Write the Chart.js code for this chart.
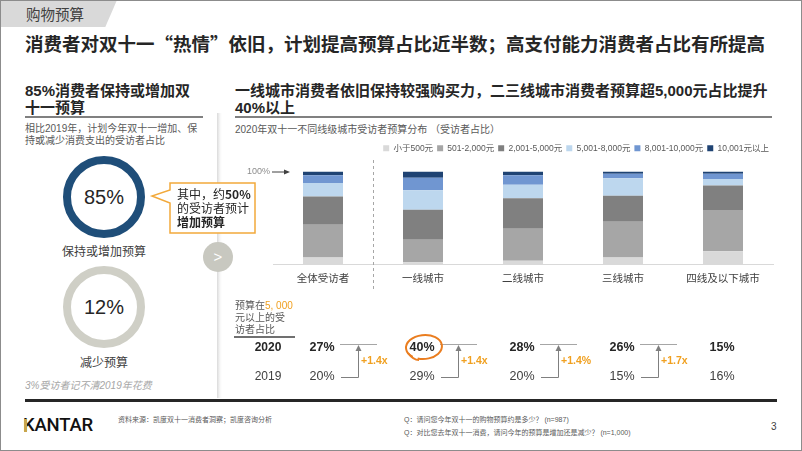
<!DOCTYPE html>
<html lang="zh">
<head>
<meta charset="UTF-8">
<title>购物预算</title>
<script src="https://cdn.jsdelivr.net/npm/chart.js"></script>
<style>
    body { margin: 0; background: #fff; font-family: "Liberation Sans", "Noto Sans CJK SC", sans-serif; color: #262626; }
    .slide { position: relative; width: 802px; height: 451px; overflow: hidden; background: #fff; }
    .frame { position: absolute; left: 0; top: 0; right: 0; bottom: 0; border: 1px solid #8c8c8c; pointer-events: none; z-index: 9; }
    .abs { position: absolute; white-space: nowrap; }
    .tab { left: 0; top: 0; width: 117px; height: 27px; background: #d9d9d9; clip-path: polygon(0 0, 100% 0, 90% 100%, 0 100%); }
    .tab span { position: absolute; left: 26px; top: 0; line-height: 27px; font-size: 14.5px; color: #404040; font-family: "Noto Sans CJK SC", sans-serif; }
    .title { left: 25px; top: 31px; line-height: 24px; font-size: 18.5px; font-weight: bold; font-family: "Noto Sans CJK SC", sans-serif; }
    .heading { top: 82px; line-height: 17px; font-size: 15px; font-weight: bold; }
    .rule { height: 2px; background: #808080; top: 116px; }
    .sub { font-size: 10px; line-height: 12px; color: #595959; }
    .ring { width: 82px; height: 82px; box-sizing: border-box; border-radius: 50%; border: 8px solid #1f4e79;
            display: flex; align-items: center; justify-content: center; font-size: 20px; color: #262626; }
    .ringLabel { width: 120px; left: 44px; text-align: center; font-size: 12px; line-height: 14px; color: #404040; }
    .note { left: 25px; top: 380px; line-height: 12px; font-size: 10px; font-style: italic; color: #a6a6a6; }
    .sep { left: 217px; top: 113px; width: 5px; height: 285px; background: linear-gradient(to right, #dadada, #f7f7f7 60%, #fff); }
    .next { left: 203px; top: 242px; width: 30px; height: 30px; border-radius: 50%; background: #c8c8c0; color: #fff;
            font-size: 15px; line-height: 30px; text-align: center; z-index: 3; }
    .callout { left: 177px; top: 187px; line-height: 14px; font-size: 12px; z-index: 5; font-family: "Noto Sans CJK SC", sans-serif; }
    .foot { font-size: 7px; line-height: 10px; color: #595959; }
    .logo { left: 23px; top: 414px; line-height: 22px; font-size: 18.5px; font-weight: 500; color: #111; font-family: Roboto, "Liberation Sans", sans-serif; letter-spacing: -0.2px; }
    #chartBox { position: absolute; left: 230px; top: 140px; width: 572px; height: 260px; z-index: 2; }
</style>
</head>
<body>
<div class="slide">
    <div class="abs tab"><span>购物预算</span></div>
    <div class="abs title">消费者对双十一“热情”依旧，计划提高预算占比近半数；高支付能力消费者占比有所提高</div>

    <div class="abs heading" style="left:25px">85%消费者保持或增加双<br>十一预算</div>
    <div class="abs rule" style="left:25px; width:178px"></div>
    <div class="abs sub" style="left:25px; top:123px">相比2019年，计划今年双十一增加、保<br>持或减少消费支出的受访者占比</div>

    <div class="abs ring" style="left:63px; top:156px">85%</div>
    <div class="abs ringLabel" style="top:245px">保持或增加预算</div>
    <div class="abs ring" style="left:63px; top:266px; border-color:#cfcfc6">12%</div>
    <div class="abs ringLabel" style="top:356px">减少预算</div>
    <div class="abs note">3%受访者记不清2019年花费</div>

    <div class="abs sep"></div>
    <div class="abs next">&gt;</div>

    <svg class="abs" style="left:0; top:0; z-index:4" width="802" height="451">
        <path d="M170,183 H255 V233 H170 V203 L152,196 L170,190 Z" fill="#fff" stroke="#f2a93b" stroke-width="1.5"/>
    </svg>
    <div class="abs callout">其中，约<b>50%</b><br>的受访者预计<br><b>增加预算</b></div>

    <div class="abs heading" style="left:235px">一线城市消费者依旧保持较强购买力，二三线城市消费者预算超5,000元占比提升<br>40%以上</div>
    <div class="abs rule" style="left:235px; width:537px"></div>
    <div class="abs sub" style="left:235px; top:124px">2020年双十一不同线级城市受访者预算分布 （受访者占比）</div>

    <div id="chartBox"><canvas id="budgetChart" width="572" height="260"></canvas></div>

    <div class="abs" style="left:25px; top:399px; width:752px; height:3px; background:#262626"></div>
    <div class="abs logo">KANTAR</div>
    <div class="abs" style="left:24px; top:419px; width:3px; height:13px; background:#c9a54c"></div>
    <div class="abs foot" style="left:118px; top:415px">资料来源：凯度双十一消费者洞察；凯度咨询分析</div>
    <div class="abs foot" style="left:404px; top:415px">Q：请问您今年双十一的购物预算约是多少？ (n=987)</div>
    <div class="abs foot" style="left:404px; top:428px">Q：对比您去年双十一消费，请问今年的预算是增加还是减少？ (n=1,000)</div>
    <div class="abs" style="left:771px; top:420px; line-height:14px; font-size:10px; color:#404040">3</div>
    <div class="frame"></div>
</div>

<script>
    // 城市线级
    const categories = ['全体受访者', '一线城市', '二线城市', '三线城市', '四线及以下城市'];
    // 预算区间
    const budgetBands = ['小于500元', '501-2,000元', '2,001-5,000元', '5,001-8,000元', '8,001-10,000元', '10,001元以上'];
    const bandColors = ['#d9d9d9', '#a6a6a6', '#808080', '#bdd7ee', '#7096d1', '#1f4373'];

    // 受访者占比 (%)
    const under500 = [7.4, 2.4, 4.0, 7.4, 14.1];
    const from501 = [35.4, 24.2, 34.3, 38.4, 44.4];
    const from2001 = [30.3, 32.3, 33.0, 28.0, 26.3];
    const from5001 = [14.5, 20.9, 14.5, 18.8, 7.1];
    const from8001 = [8.4, 13.5, 10.1, 5.0, 5.7];
    const over10001 = [4.0, 6.7, 4.1, 2.4, 2.4];

    // 预算在5,000元以上的受访者占比
    const share2020 = ['27%', '40%', '28%', '26%', '15%'];
    const share2019 = ['20%', '29%', '20%', '15%', '16%'];
    const growth = ['+1.4x', '+1.4x', '+1.4%', '+1.7x', ''];

    const FONT = '"Liberation Sans", "Noto Sans CJK SC", sans-serif';
    const bandValues = [under500, from501, from2001, from5001, from8001, over10001];

    const legendGap = {
        id: 'legendGap',
        beforeInit(chart) {
            const fit = chart.legend.fit;
            chart.legend.fit = function () {
                fit.call(this);
                this.height += 9;
            };
        }
    };

    function arrowUp(ctx, x, y) {
        ctx.beginPath();
        ctx.moveTo(x, y);
        ctx.lineTo(x - 3, y + 6);
        ctx.lineTo(x + 3, y + 6);
        ctx.closePath();
        ctx.fill();
    }

    const tableOverlay = {
        id: 'tableOverlay',
        afterDraw(chart) {
            const ctx = chart.ctx;
            const x = chart.scales.x;
            const area = chart.chartArea;
            ctx.save();

            // 全体 / 城市分隔虚线
            const divX = Math.round((x.getPixelForValue(0) + x.getPixelForValue(1)) / 2) + 0.5;
            ctx.strokeStyle = '#a6a6a6';
            ctx.lineWidth = 1;
            ctx.setLineDash([3, 3]);
            ctx.beginPath();
            ctx.moveTo(divX, 20);
            ctx.lineTo(divX, 152);
            ctx.stroke();
            ctx.setLineDash([]);

            // 100% 标记
            ctx.fillStyle = '#8c8c8c';
            ctx.font = '9px ' + FONT;
            ctx.textAlign = 'right';
            ctx.textBaseline = 'middle';
            ctx.fillText('100%', 40, area.top);
            ctx.strokeStyle = '#404040';
            ctx.beginPath();
            ctx.moveTo(42, area.top + 0.5);
            ctx.lineTo(55, area.top + 0.5);
            ctx.stroke();
            ctx.fillStyle = '#404040';
            ctx.beginPath();
            ctx.moveTo(60, area.top + 0.5);
            ctx.lineTo(54, area.top - 2);
            ctx.lineTo(54, area.top + 3);
            ctx.closePath();
            ctx.fill();

            // 左侧说明
            ctx.textAlign = 'left';
            ctx.font = '10px ' + FONT;
            ctx.fillStyle = '#595959';
            ctx.fillText('预算在', 5, 166);
            const w = ctx.measureText('预算在').width;
            ctx.fillStyle = '#f0a020';
            ctx.fillText('5, 000', 5 + w, 166);
            ctx.fillStyle = '#595959';
            ctx.fillText('元以上的受', 5, 178);
            ctx.fillText('访者占比', 5, 190);
            ctx.strokeStyle = '#404040';
            ctx.lineWidth = 1.5;
            ctx.beginPath();
            ctx.moveTo(4, 197);
            ctx.lineTo(65, 197);
            ctx.stroke();

            ctx.textAlign = 'center';
            ctx.fillStyle = '#262626';
            ctx.font = 'bold 12px ' + FONT;
            ctx.fillText('2020', 38, 208);
            ctx.fillStyle = '#404040';
            ctx.font = '12px ' + FONT;
            ctx.fillText('2019', 38, 237);

            categories.forEach((c, i) => {
                const cx = x.getPixelForValue(i);
                ctx.textAlign = 'center';
                ctx.fillStyle = '#262626';
                ctx.font = 'bold 12.5px ' + FONT;
                ctx.fillText(share2020[i], cx - 1, 208);
                ctx.fillStyle = '#404040';
                ctx.font = '12.5px ' + FONT;
                ctx.fillText(share2019[i], cx - 1, 237);

                if (growth[i]) {
                    const vx = Math.round(cx + 35) + 0.5;
                    ctx.strokeStyle = '#a6a6a6';
                    ctx.lineWidth = 1;
                    ctx.beginPath();
                    ctx.moveTo(cx + 17, 204.5);
                    ctx.lineTo(cx + 54, 204.5);
                    ctx.stroke();
                    ctx.strokeStyle = '#7f7f7f';
                    ctx.beginPath();
                    ctx.moveTo(cx + 18, 237.5);
                    ctx.lineTo(vx, 237.5);
                    ctx.lineTo(vx, 210);
                    ctx.stroke();
                    ctx.fillStyle = '#7f7f7f';
                    arrowUp(ctx, vx, 205);
                    ctx.textAlign = 'left';
                    ctx.fillStyle = '#f0a020';
                    ctx.font = 'bold 10.5px ' + FONT;
                    ctx.fillText(growth[i], cx + 38, 221);
                }
            });

            // 一线城市高亮圈
            const hx = x.getPixelForValue(1);
            ctx.strokeStyle = '#ea7d1f';
            ctx.lineWidth = 2;
            ctx.beginPath();
            ctx.ellipse(hx + 1, 207, 18, 12, -0.08, 2.3, 2.3 + Math.PI * 1.9);
            ctx.stroke();
            ctx.beginPath();
            ctx.moveTo(hx - 15, 213);
            ctx.quadraticCurveTo(hx - 10, 220, hx - 4, 220);
            ctx.stroke();

            ctx.restore();
        }
    };

    new Chart(document.getElementById('budgetChart'), {
        type: 'bar',
        data: {
            labels: categories,
            datasets: budgetBands.map((band, i) => ({
                label: band,
                data: bandValues[i],
                backgroundColor: bandColors[i],
                borderWidth: 0,
                barPercentage: 0.4,
                categoryPercentage: 1
            }))
        },
        options: {
            responsive: false,
            animation: false,
            layout: { padding: { top: 0, left: 43, right: 29, bottom: 107 } },
            plugins: {
                legend: {
                    position: 'top',
                    align: 'end',
                    labels: {
                        boxWidth: 6,
                        boxHeight: 6,
                        padding: 4,
                        color: '#595959',
                        font: { size: 8.5, family: FONT }
                    }
                },
                tooltip: { enabled: false }
            },
            scales: {
                x: {
                    stacked: true,
                    grid: { display: false, drawTicks: false },
                    border: { display: true, color: '#d9d9d9' },
                    ticks: { padding: 8, color: '#404040', font: { size: 10.5, family: FONT } }
                },
                y: {
                    stacked: true,
                    display: false,
                    min: 0,
                    max: 100
                }
            }
        },
        plugins: [legendGap, tableOverlay]
    });
</script>
</body>
</html>
